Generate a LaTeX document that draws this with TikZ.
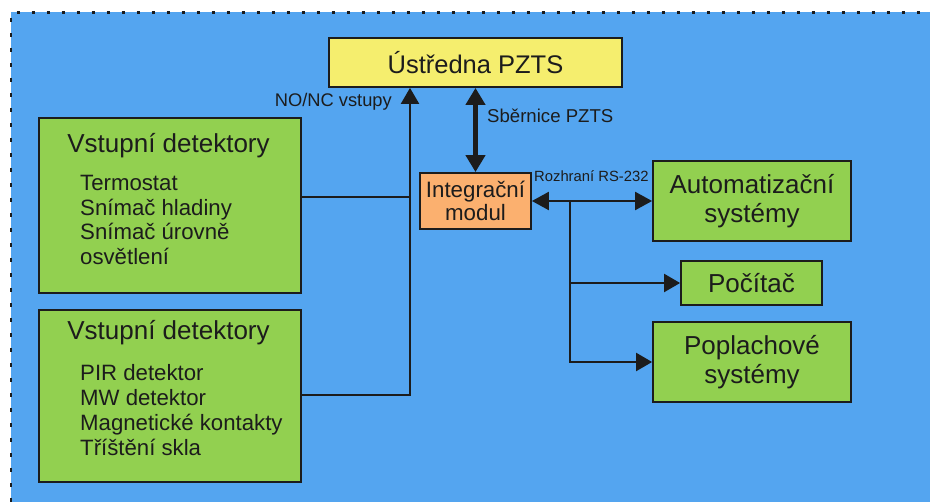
\documentclass[tikz,border=0pt]{standalone}
\usepackage{fontspec}
\setmainfont{Liberation Sans}
\usetikzlibrary{arrows.meta}
\definecolor{bgblue}{HTML}{54A5F0}
\definecolor{boxgreen}{HTML}{92D050}
\definecolor{boxyellow}{HTML}{F5EE6E}
\definecolor{boxorange}{HTML}{FBB06F}
\definecolor{inkc}{HTML}{1C1C1C}
\tikzset{
  box/.style={draw=inkc, line width=1.8pt, rectangle, inner sep=0pt, text=inkc, align=center},
  greenbox/.style={box, fill=boxgreen},
  bigtext/.style={font=\fontsize{26}{28.5}\selectfont},
  itemtext/.style={font=\fontsize{22.2}{24.5}\selectfont, text=inkc, inner sep=0pt, anchor=base west},
  lbl/.style={text=inkc, inner sep=0pt},
  conn/.style={draw=inkc, line width=2.2pt, -{Triangle[length=16pt,width=18pt]}},
  plainconn/.style={draw=inkc, line width=2.2pt},
}
\begin{document}
\begin{tikzpicture}[x=1pt,y=-1pt]
\useasboundingbox (0,0) rectangle (930,502);
\fill[white] (0,0) rectangle (930,502);
\fill[bgblue] (11,12.5) rectangle (930,502);
\draw[inkc, line width=2.4pt, dash pattern=on 3.5pt off 11.5pt] (11,502) -- (11,12.5) -- (930,12.5);

% nodes
\node[box, fill=boxyellow, bigtext, font=\fontsize{25.5}{28}\selectfont, minimum width=293pt, minimum height=49pt] (ustr) at (475.5,62.5) {Ústředna PZTS};
\node[box, fill=boxorange, font=\fontsize{22.3}{23}\selectfont, minimum width=111pt, minimum height=56pt] (integ) at (475.5,201) {Integrační\\modul};
\node[greenbox, bigtext, minimum width=198pt, minimum height=80pt] (auto) at (752,201) {Automatizační\\systémy};
\node[greenbox, bigtext, minimum width=141pt, minimum height=44pt] (poc) at (751.5,283) {Počítač};
\node[greenbox, bigtext, minimum width=198pt, minimum height=80pt] (popl) at (752,362) {Poplachové\\systémy};
\node[greenbox, minimum width=262pt, minimum height=175pt] (det1) at (170,205.5) {};
\node[greenbox, minimum width=262pt, minimum height=172pt] (det2) at (170,396) {};

% box texts
\node[lbl, bigtext, anchor=base] (t1) at (168.5,153) {Vstupní detektory};
\node[itemtext] (i11) at (80,191) {Termostat};
\node[itemtext] (i12) at (80,215.5) {Snímač hladiny};
\node[itemtext] (i13) at (80,240) {Snímač úrovně};
\node[itemtext] (i14) at (80,264.5) {osvětlení};
\node[lbl, bigtext, anchor=base] (t2) at (168.5,340) {Vstupní detektory};
\node[itemtext] (i21) at (80,381) {PIR detektor};
\node[itemtext] (i22) at (80,406) {MW detektor};
\node[itemtext] (i23) at (80,431) {Magnetické kontakty};
\node[itemtext] (i24) at (80,456) {Tříštění skla};

% labels
\node[lbl, font=\fontsize{18.3}{20}\selectfont, anchor=base east] (lno) at (392,107) {NO/NC vstupy};
\node[lbl, font=\fontsize{18.6}{20}\selectfont, anchor=base west] (lsb) at (487,123) {Sběrnice PZTS};
\node[lbl, font=\fontsize{14.8}{17}\selectfont, anchor=base west] (lrs) at (534,182) {Rozhraní RS-232};

% connectors
\coordinate (j1) at (410,197);
\coordinate (j2) at (410,395);
\coordinate (br) at (570,201);
\draw[plainconn] (det1.east |- j1) -- (j1);
\draw[conn] (det2.east |- j2) -- (j2) -- (ustr.south -| j2);
\draw[draw=inkc, line width=4.2pt, {Triangle[length=17pt,width=19pt]}-{Triangle[length=17pt,width=19pt]}] (ustr.south) -- (integ.north);
\draw[draw=inkc, line width=2.2pt, {Triangle[length=17pt,width=18pt]}-{Triangle[length=17pt,width=18pt]}] (integ.east) -- (auto.west);
\draw[conn] (br) |- (poc.west);
\draw[conn] (br) |- (popl.west);
\end{tikzpicture}
\end{document}
